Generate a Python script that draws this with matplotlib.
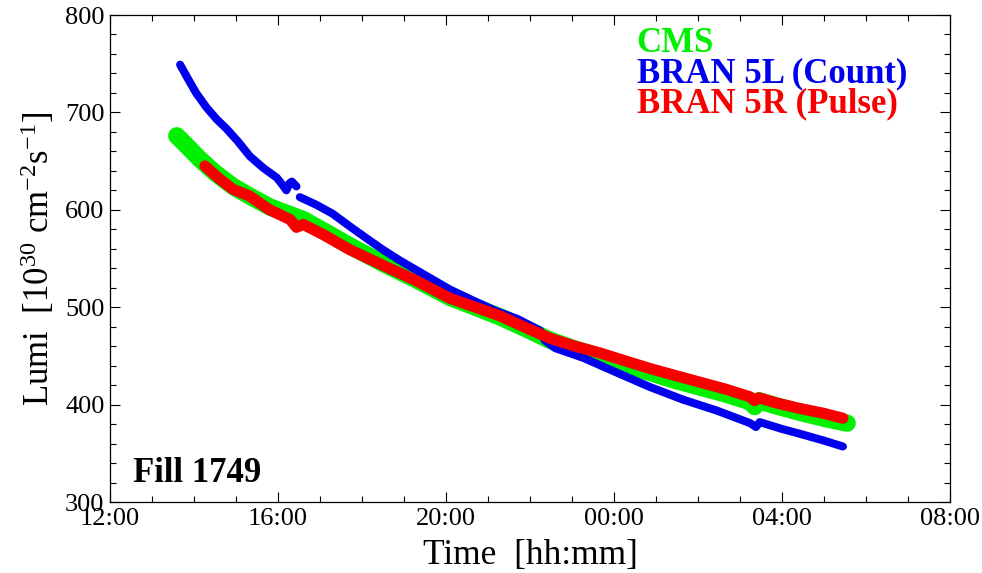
import numpy as np
import matplotlib
matplotlib.use("Agg")
import matplotlib.pyplot as plt
from matplotlib.ticker import FixedLocator, MultipleLocator

# ---- data (time in hours since 12:00) ----
cms_t = [1.59, 1.8, 2.14, 2.5, 2.93, 3.33, 3.8, 4.29, 4.6, 5.1, 5.71, 6.5, 7.3, 8.1,
         8.7, 9.29, 9.9, 10.48, 11.07, 11.67, 12.26, 12.86, 13.45, 14.05, 14.65,
         15.24, 15.35, 15.45, 15.84, 16.43, 17.0, 17.55]
cms_v = [676, 667, 652, 638, 624, 614, 603, 595, 590, 578, 563, 545, 528, 510,
         500, 490, 478, 466, 457, 449, 441, 433, 425, 418, 411,
         403, 398, 404, 399, 392, 386, 381]

bran5l_t = [1.67, 1.85, 2.05, 2.3, 2.54, 2.78, 3.05, 3.33, 3.65, 3.97, 4.1, 4.2, 4.27, 4.33, 4.44,
            np.nan,
            4.52, 4.92, 5.3, 5.71, 6.1, 6.5, 6.9, 7.3, 7.7, 8.1, 8.64, 9.2, 9.7, 10.24,
            10.35, 10.6, 11.27, 12.06, 12.86, 13.65, 14.44, 15.24, 15.38, 15.47, 16.0,
            16.43, 17.0, 17.45]
bran5l_v = [749, 735, 720, 705, 693, 683, 670, 655, 643, 633, 626, 620, 627, 629, 624,
            np.nan,
            613, 605, 596, 583, 571, 559, 548, 538, 528, 518, 507, 496, 488, 476,
            466, 458, 448, 433, 418, 405, 394, 381, 377, 382, 375,
            370, 363, 357]

bran5r_t = [2.26, 2.6, 2.93, 3.33, 3.8, 4.29, 4.44, 4.6, 5.1, 5.71, 6.5, 7.3, 7.7, 8.1,
            8.7, 9.29, 9.9, 10.48, 11.07, 11.67, 12.26, 12.86, 13.45, 14.05, 14.65,
            15.24, 15.35, 15.45, 15.84, 16.43, 17.0, 17.45]
bran5r_v = [645, 632, 621, 614, 600, 590, 582, 585, 574, 559, 543, 527, 518, 509,
            500, 491, 479, 468, 460, 453, 445, 437, 430, 423, 416,
            408, 404, 407, 402, 396, 391, 386]

series_names = ["CMS", "BRAN 5L (Count)", "BRAN 5R (Pulse)"]
x_tick_pos = [0, 4, 8, 12, 16, 20]
x_tick_labels = ["12:00", "16:00", "20:00", "00:00", "04:00", "08:00"]
y_ticks = [300, 400, 500, 600, 700, 800]

# ---- style ----
plt.rcParams['font.family'] = ['Liberation Serif', 'DejaVu Serif']
plt.rcParams['mathtext.fontset'] = 'custom'
plt.rcParams['mathtext.rm'] = 'Liberation Serif'
plt.rcParams['mathtext.it'] = 'Liberation Serif:italic'
plt.rcParams['mathtext.bf'] = 'Liberation Serif:bold'

fig = plt.figure(figsize=(9.82, 5.73), dpi=100)
ax = fig.add_axes([0.112, 0.1239, 0.8554, 0.8499])

green = '#00f000'
blue = '#0000ec'
red = '#f80000'

ax.plot(cms_t, cms_v, color=green, lw=12.5, solid_capstyle='round', solid_joinstyle='round')
ax.plot(bran5l_t, bran5l_v, color=blue, lw=5.8, solid_capstyle='round', solid_joinstyle='round')
ax.plot(bran5r_t, bran5r_v, color=red, lw=8, solid_capstyle='round', solid_joinstyle='round')

ax.set_xlim(0, 20)
ax.set_ylim(300, 800)
ax.xaxis.set_major_locator(FixedLocator(x_tick_pos))
ax.set_xticklabels(x_tick_labels)
ax.xaxis.set_minor_locator(MultipleLocator(1))
ax.set_yticks(y_ticks)
ax.yaxis.set_minor_locator(MultipleLocator(20))

ax.tick_params(which='both', direction='in', top=True, right=True, labelsize=19, width=0.8)
ax.tick_params(which='major', length=7, pad=4)
ax.tick_params(which='minor', length=4)
for s in ax.spines.values():
    s.set_linewidth(0.9)

ax.set_xlabel('Time  [hh:mm]', fontsize=25.5, labelpad=7)
ax.set_ylabel(r'Lumi  [10$^{30}$ cm$^{-2}$s$^{-1}$]', fontsize=25, labelpad=6)

colors = [green, blue, red]
ys = [0.924, 0.862, 0.800]
for name, c, yy in zip(series_names, colors, ys):
    ax.text(0.627, yy, name, transform=ax.transAxes, color=c, fontsize=25,
            fontweight='bold', va='baseline', ha='left')

ax.text(0.027, 0.042, 'Fill 1749', transform=ax.transAxes, fontsize=25,
        fontweight='bold', va='baseline', ha='left')

fig.savefig('out.png', dpi=100)
